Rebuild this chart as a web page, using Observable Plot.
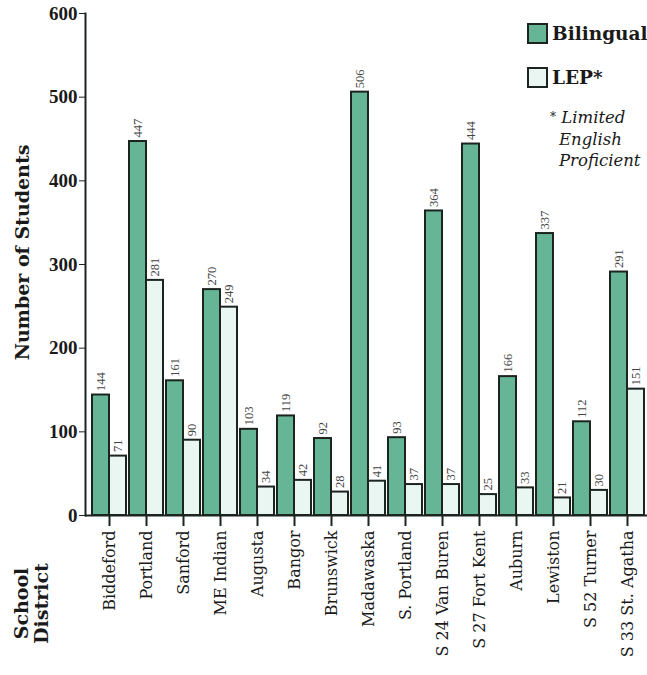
<!DOCTYPE html>
<html>
<head>
<meta charset="utf-8">
<script src="https://cdn.jsdelivr.net/npm/d3@7"></script>
<script src="https://cdn.jsdelivr.net/npm/@observablehq/plot@0.6"></script>
<style>
  html, body { margin: 0; padding: 0; background: #ffffff; }
  #wrap { position: relative; width: 647px; height: 675px; overflow: hidden; font-family: "DejaVu Serif", "Liberation Serif", serif; }
  #legend { position: absolute; left: 527px; top: 22px; color: #1a1a1a; white-space: nowrap; }
  .lg-row { display: flex; align-items: center; height: 22px; margin-bottom: 22px; }
  .sw { width: 17px; height: 17px; border: 2px solid #1c2420; margin-right: 4px; }
  .lg-label { font-weight: bold; font-size: 18.5px; }
  .lg-note { font-style: italic; font-size: 16.5px; line-height: 21.5px; margin-left: 32px; margin-top: -3px; }
  .lg-note .star { margin-left: -9px; font-style: normal; font-size: 12px; vertical-align: top; }
</style>
</head>
<body>
<div id="wrap"><div id="chart"></div>
  <div id="legend">
    <div class="lg-row"><div class="sw" id="sw-bil"></div><span class="lg-label" id="lab-bil"></span></div>
    <div class="lg-row"><div class="sw" id="sw-lep"></div><span class="lg-label" id="lab-lep"></span></div>
    <div class="lg-note"><span class="star">*</span> Limited<br>English<br>Proficient</div>
  </div>
</div>
<script>
const districts = ["Biddeford", "Portland", "Sanford", "ME Indian", "Augusta", "Bangor", "Brunswick", "Madawaska", "S. Portland", "S 24 Van Buren", "S 27 Fort Kent", "Auburn", "Lewiston", "S 52 Turner", "S 33 St. Agatha"];
const bilingual = [144, 447, 161, 270, 103, 119, 92, 506, 93, 364, 444, 166, 337, 112, 291];
const lep = [71, 281, 90, 249, 34, 42, 28, 41, 37, 37, 25, 33, 21, 30, 151];
const seriesNames = ["Bilingual", "LEP*"];
const yTicks = [0, 100, 200, 300, 400, 500, 600];
const yLabel = "Number of Students";
const xLabel = "School\nDistrict";

const colors = { bil: "#66b596", lep: "#eaf6f1", stroke: "#1c2420" };

const bilData = districts.map((d, i) => ({ district: d, value: bilingual[i] }));
const lepData = districts.map((d, i) => ({ district: d, value: lep[i] }));

const serif = "Liberation Serif, DejaVu Serif, serif";
const wide = "DejaVu Serif, Liberation Serif, serif";

const chart = Plot.plot({
  width: 647,
  height: 675,
  marginLeft: 85,
  marginRight: 0,
  marginTop: 13,
  marginBottom: 160,
  style: { fontFamily: serif, background: "transparent", color: "#1a1a1a" },
  x: { type: "band", domain: districts, padding: 0.08, insetLeft: 4, label: null },
  y: { domain: [0, 600], label: null },
  marks: [
    Plot.barY(bilData, { x: "district", y: "value", fill: colors.bil, stroke: colors.stroke, strokeWidth: 2, insetRight: 17 }),
    Plot.barY(lepData, { x: "district", y: "value", fill: colors.lep, stroke: colors.stroke, strokeWidth: 2, insetLeft: 17 }),
    Plot.text(bilData, { x: "district", y: "value", text: d => String(d.value), rotate: -90, textAnchor: "start", dx: -8.5, dy: -4, fontSize: 12.5, fill: "#444" }),
    Plot.text(lepData, { x: "district", y: "value", text: d => String(d.value), rotate: -90, textAnchor: "start", dx: 8.5, dy: -4, fontSize: 12.5, fill: "#444" }),
    Plot.ruleY([0], { stroke: colors.stroke, strokeWidth: 2 }),
    Plot.frame({ anchor: "left", stroke: colors.stroke, strokeWidth: 2 }),
    Plot.axisY({ ticks: yTicks, tickSize: 6, tickPadding: 2, fontSize: 19, fontWeight: "bold", label: null, stroke: colors.stroke }),
    Plot.axisX({ tickSize: 11, tickPadding: 4, tickRotate: -90, fontSize: 16, fontFamily: wide, label: null, stroke: colors.stroke, strokeWidth: 2 }),
    Plot.text([yLabel], { frameAnchor: "left", rotate: -90, textAnchor: "middle", lineAnchor: "middle", dx: -63, dy: -12, fontSize: 19, fontFamily: wide, fontWeight: "bold", fill: "#1a1a1a" }),
    Plot.text([xLabel], { frameAnchor: "bottom-left", rotate: -90, textAnchor: "middle", lineAnchor: "middle", dx: -54, dy: 88, fontSize: 19, fontFamily: wide, fontWeight: "bold", fill: "#1a1a1a", lineHeight: 1.05 })
  ]
});
document.getElementById("chart").appendChild(chart);

document.getElementById("sw-bil").style.background = colors.bil;
document.getElementById("sw-lep").style.background = colors.lep;
document.getElementById("lab-bil").textContent = seriesNames[0];
document.getElementById("lab-lep").textContent = seriesNames[1];
</script>
</body>
</html>
